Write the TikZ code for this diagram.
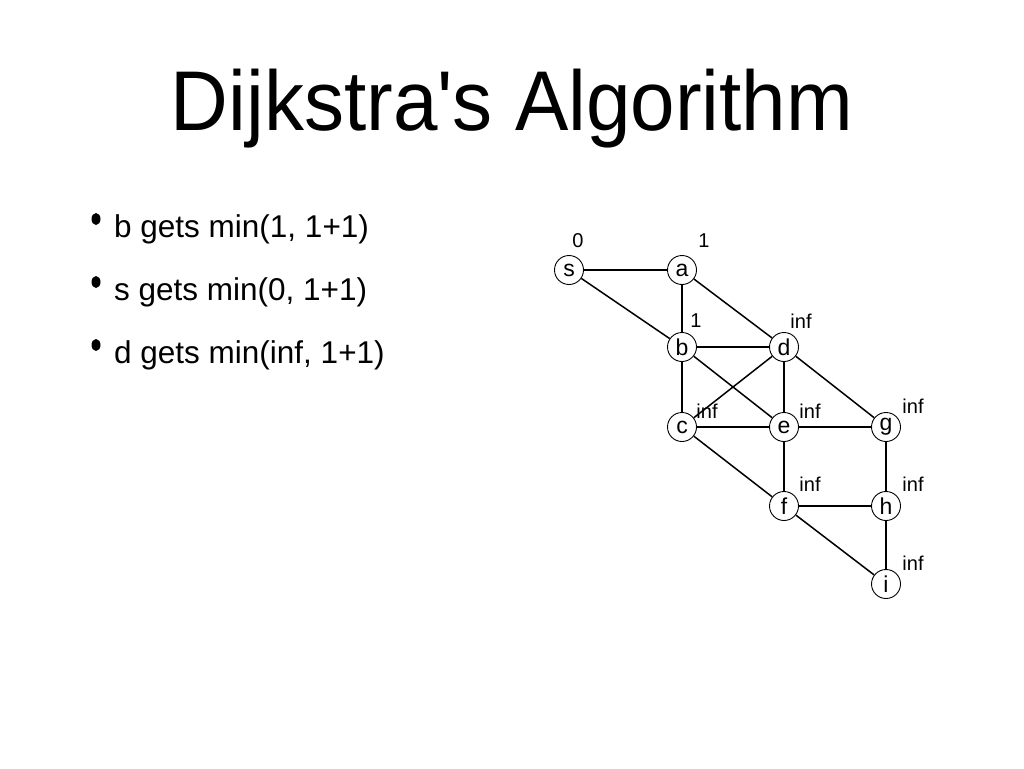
\documentclass[tikz,border=0pt]{standalone}
\usepackage{fontspec}
\setmainfont{Liberation Sans}
\usetikzlibrary{shapes.geometric}
\begin{document}
\begin{tikzpicture}[x=1pt,y=-1pt,
  vtx/.style={circle,draw=black,line width=0.9pt,fill=white,minimum size=29pt,inner sep=0pt,font=\fontsize{23}{23}\selectfont},
  dist/.style={font=\fontsize{20}{20}\selectfont,inner sep=0pt},
  edge/.style={line width=1.5pt},
  bul/.style={font=\fontsize{31.5}{31.5}\selectfont,anchor=base west,inner sep=0pt},
  dot/.style={ellipse,fill=black,inner sep=0pt,minimum width=9pt,minimum height=12pt}]
\useasboundingbox (0,0) rectangle (1024,768);
\node[font=\fontsize{80}{80}\selectfont,inner sep=0pt,yscale=1.06] (title) at (512,109) {Dijkstra\textquotesingle s Algorithm};
\node[dot] (d1) at (96,219) {};
\node[dot] (d2) at (96,282) {};
\node[dot] (d3) at (96,345) {};
\node[bul] (t1) at (114,237) {b gets min(1, 1+1)};
\node[bul] (t2) at (114,300) {s gets min(0, 1+1)};
\node[bul] (t3) at (114,363) {d gets min(inf, 1+1)};
% vertices
\node[vtx] (s) at (569,270) {s};
\node[vtx] (a) at (682,270) {a};
\node[vtx] (b) at (682,347) {b};
\node[vtx] (d) at (784,347) {d};
\node[vtx] (c) at (682,427) {c};
\node[vtx] (e) at (784,427) {e};
\node[vtx] (g) at (886,427) {g};
\node[vtx] (f) at (784,506) {f};
\node[vtx] (h) at (886,506) {h};
\node[vtx] (i) at (886,584) {i};
\draw[edge] (s) -- (a);
\draw[edge] (s) -- (b);
\draw[edge] (a) -- (b);
\draw[edge] (a) -- (d);
\draw[edge] (b) -- (d);
\draw[edge] (b) -- (c);
\draw[edge] (b) -- (e);
\draw[edge] (d) -- (c);
\draw[edge] (d) -- (e);
\draw[edge] (d) -- (g);
\draw[edge] (c) -- (e);
\draw[edge] (e) -- (g);
\draw[edge] (c) -- (f);
\draw[edge] (e) -- (f);
\draw[edge] (g) -- (h);
\draw[edge] (f) -- (h);
\draw[edge] (f) -- (i);
\draw[edge] (h) -- (i);
% distance labels
\node[dist] (ls) at (578,241) {0};
\node[dist] (la) at (704,241) {1};
\node[dist] (lb) at (696,321) {1};
\node[dist] (ld) at (801,321) {inf};
\node[dist] (lc) at (707,411) {inf};
\node[dist] (le) at (810,411) {inf};
\node[dist] (lg) at (913,406) {inf};
\node[dist] (lf) at (810,484) {inf};
\node[dist] (lh) at (913,484) {inf};
\node[dist] (li) at (913,563) {inf};
\end{tikzpicture}
\end{document}
